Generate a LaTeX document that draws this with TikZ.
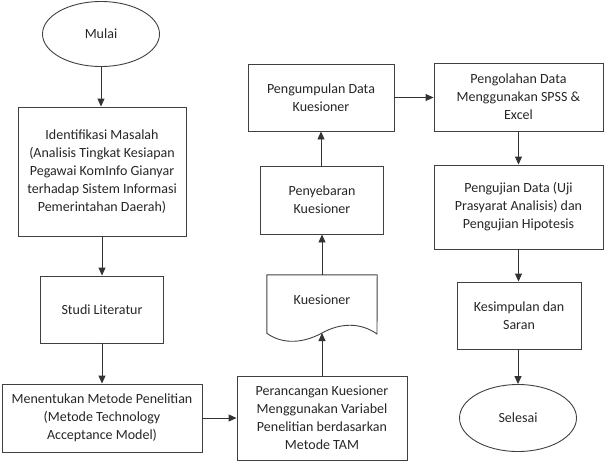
\documentclass[tikz,border=0pt]{standalone}
\usepackage{fontspec}
\setmainfont{Carlito}
\usetikzlibrary{shapes.geometric,arrows.meta}
\begin{document}
\begin{tikzpicture}[x=1pt,y=-1pt,
  every node/.style={font=\fontsize{14}{18}\selectfont, text=black!85, align=center, inner sep=1pt},
  box/.style={draw=black!75, line width=0.9pt, rectangle},
  oval/.style={draw=black!75, line width=0.9pt, ellipse},
  arr/.style={draw=black!80, line width=0.9pt, -{Triangle[length=8pt,width=7pt]}}]
\useasboundingbox (0,0) rectangle (604,461);
\node[oval, minimum width=117pt, minimum height=65pt] (mulai) at (101,34) {Mulai};
\node[box, minimum width=168pt, minimum height=129pt] (ident) at (102,171.5) {Identifikasi Masalah\\(Analisis Tingkat Kesiapan\\Pegawai KomInfo Gianyar\\terhadap Sistem Informasi\\Pemerintahan Daerah)};
\node[box, minimum width=123pt, minimum height=67pt] (studi) at (102,309.5) {Studi Literatur};
\node[box, minimum width=200pt, minimum height=68pt] (menent) at (102,418) {Menentukan Metode Penelitian\\(Metode Technology\\Acceptance Model)};
\node[box, minimum width=170pt, minimum height=84pt] (peran) at (322,418) {Perancangan Kuesioner\\Menggunakan Variabel\\Penelitian berdasarkan\\Metode TAM};
\node[minimum width=110pt, minimum height=58pt] (kues) at (322,304) {};
\node at (322,300) {Kuesioner};
\draw[draw=black!75, line width=0.9pt] (kues.south west) -- (kues.north west) -- (kues.north east) -- (377,334)
  .. controls (360,322) and (340,323) .. (322,333)
  .. controls (300,345) and (280,343) .. (kues.south west) -- cycle;
\coordinate (kuesb) at (322,333);
\node[box, minimum width=123pt, minimum height=68pt] (penyeb) at (322,200) {Penyebaran\\Kuesioner};
\node[box, minimum width=146pt, minimum height=67pt] (pengump) at (321,97.5) {Pengumpulan Data\\Kuesioner};
\node[box, minimum width=169pt, minimum height=68pt] (pengol) at (518.5,97) {Pengolahan Data\\Menggunakan SPSS \&\\Excel};
\node[box, minimum width=169pt, minimum height=84pt] (uji) at (518.5,207) {Pengujian Data (Uji\\Prasyarat Analisis) dan\\Pengujian Hipotesis};
\node[box, minimum width=124pt, minimum height=67pt] (kesimp) at (519,315.5) {Kesimpulan dan\\Saran};
\node[oval, minimum width=117pt, minimum height=67pt] (selesai) at (518,418) {Selesai};
\draw[arr] (mulai.south) -- (ident.north -| mulai.south);
\draw[arr] (ident.south) -- (studi.north);
\draw[arr] (studi.south) -- (menent.north);
\draw[arr] (menent.east) -- (peran.west);
\draw[arr] (peran.north) -- (kuesb);
\draw[arr] (kues.north) -- (penyeb.south);
\draw[arr] (penyeb.north -| pengump.south) -- (pengump.south);
\draw[arr] (pengump.east) -- (pengol.west |- pengump.east);
\draw[arr] (pengol.south) -- (uji.north);
\draw[arr] (uji.south) -- (kesimp.north -| uji.south);
\draw[arr] (kesimp.south -| selesai.north) -- (selesai.north);
\end{tikzpicture}
\end{document}
